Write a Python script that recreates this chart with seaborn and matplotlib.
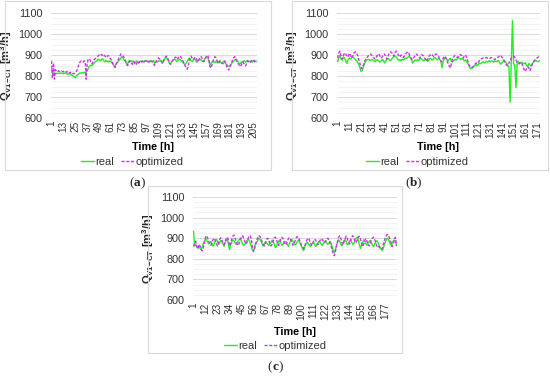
import numpy as np
import pandas as pd
import matplotlib
matplotlib.use("Agg")
import matplotlib.pyplot as plt
from matplotlib.patches import Rectangle
from matplotlib.lines import Line2D
import seaborn as sns

# ---------------- data ----------------
real_a = [
    832, 818, 812, 815, 810, 812, 814, 811, 813, 815,
    812, 814, 810, 813, 815, 812, 808, 811, 809, 812,
    806, 802, 798, 796, 792, 800, 805, 808, 812, 815,
    812, 816, 814, 818, 815, 820, 825, 835, 845, 848,
    852, 850, 856, 860, 866, 870, 874, 880, 878, 872,
    876, 882, 880, 872, 868, 875, 870, 866, 872, 868,
    870, 862, 858, 850, 845, 855, 862, 868, 872, 878,
    885, 892, 888, 880, 872, 868, 852, 860, 870, 874,
    868, 872, 866, 870, 862, 868, 872, 866, 864, 870,
    868, 872, 870, 866, 870, 874, 868, 872, 870, 866,
    872, 868, 870, 874, 860, 868, 872, 866, 870, 872,
    876, 870, 862, 868, 878, 885, 888, 880, 872, 862,
    858, 865, 870, 876, 880, 878, 872, 868, 875, 880,
    878, 872, 868, 862, 858, 855, 862, 870, 878, 885,
    880, 872, 868, 875, 882, 878, 870, 865, 872, 878,
    880, 876, 870, 868, 875, 882, 888, 892, 886, 870,
    852, 858, 865, 870, 868, 864, 870, 866, 862, 868,
    870, 865, 860, 866, 870, 864, 858, 854, 848, 845,
    850, 855, 860, 866, 870, 874, 880, 878, 870, 862,
    858, 862, 868, 866, 870, 872, 866, 870, 874, 870,
    868, 872, 870, 866, 872, 875, 870, 868,
]
opt_a = [
    872, 790, 862, 785, 830, 822, 820, 825, 822, 820,
    824, 822, 820, 825, 822, 818, 820, 822, 815, 818,
    812, 815, 810, 812, 818, 822, 830, 845, 860, 868,
    872, 870, 866, 872, 868, 785, 860, 878, 882, 875,
    862, 858, 868, 878, 882, 886, 890, 895, 900, 905,
    902, 898, 905, 900, 895, 888, 892, 898, 894, 885,
    880, 872, 860, 848, 840, 852, 865, 875, 885, 895,
    905, 900, 895, 890, 882, 870, 858, 850, 862, 872,
    866, 860, 855, 868, 862, 852, 858, 870, 862, 868,
    872, 866, 870, 875, 868, 872, 876, 870, 866, 872,
    876, 870, 868, 858, 850, 862, 872, 880, 886, 882,
    875, 868, 860, 872, 882, 890, 895, 888, 878, 866,
    855, 862, 872, 880, 885, 890, 886, 878, 888, 892,
    895, 888, 878, 868, 858, 848, 840, 832, 845, 870,
    888, 895, 885, 878, 882, 890, 884, 876, 868, 880,
    888, 892, 885, 872, 868, 880, 892, 898, 895, 878,
    845, 838, 852, 870, 885, 892, 886, 875, 868, 860,
    872, 868, 862, 858, 866, 872, 860, 845, 835, 828,
    838, 852, 866, 878, 888, 892, 884, 872, 862, 855,
    850, 845, 858, 868, 862, 855, 848, 860, 872, 868,
    862, 866, 872, 878, 872, 868, 874, 878,
]
real_b = [
    868, 885, 900, 882, 875, 890, 886, 870, 860, 878,
    885, 882, 888, 890, 886, 880, 872, 865, 855, 840,
    822, 825, 845, 860, 870, 878, 880, 876, 874, 878,
    876, 872, 868, 874, 878, 872, 866, 870, 880, 875,
    862, 870, 880, 884, 878, 872, 880, 888, 892, 895,
    890, 882, 875, 878, 872, 880, 876, 882, 886, 884,
    890, 895, 885, 878, 862, 870, 876, 872, 878, 874,
    880, 884, 878, 872, 876, 880, 874, 870, 878, 884,
    880, 876, 884, 888, 882, 878, 884, 880, 872, 838,
    870, 882, 888, 880, 870, 878, 884, 872, 866, 874,
    880, 876, 882, 888, 884, 878, 884, 880, 872, 876,
    868, 862, 848, 835, 836, 838, 845, 850, 855, 848,
    856, 862, 858, 864, 868, 862, 866, 870, 866, 872,
    868, 872, 870, 866, 872, 868, 870, 874, 866, 856,
    862, 870, 875, 868, 860, 850, 845, 675, 860, 1065,
    858, 850, 745, 862, 870, 858, 862, 866, 860, 858,
    864, 850, 846, 860, 852, 848, 860, 866, 870, 874,
    870, 868, 872,
]
opt_b = [
    885, 910, 918, 895, 880, 898, 910, 905, 890, 895,
    908, 900, 885, 895, 910, 915, 912, 900, 880, 860,
    840, 835, 852, 868, 880, 888, 895, 902, 905, 900,
    892, 886, 880, 890, 900, 905, 896, 885, 890, 900,
    905, 895, 880, 895, 908, 915, 912, 905, 895, 912,
    918, 910, 898, 890, 900, 895, 888, 895, 905, 912,
    915, 905, 890, 882, 878, 888, 898, 905, 900, 892,
    885, 895, 902, 896, 888, 880, 870, 882, 896, 900,
    905, 898, 892, 900, 905, 902, 895, 880, 870, 868,
    885, 895, 888, 878, 862, 850, 838, 860, 880, 892,
    898, 895, 888, 892, 900, 902, 895, 885, 895, 900,
    890, 870, 852, 845, 840, 842, 848, 856, 862, 858,
    866, 874, 880, 884, 886, 884, 886, 888, 884, 886,
    884, 888, 886, 882, 878, 885, 888, 890, 896, 898,
    890, 882, 870, 860, 852, 848, 860, 875, 885, 892,
    895, 888, 878, 865, 858, 860, 866, 862, 845, 830,
    822, 835, 845, 838, 826, 840, 856, 868, 876, 880,
    886, 890, 894,
]
real_c = [
    935, 862, 870, 858, 852, 865, 850, 845, 858, 872,
    885, 898, 890, 880, 872, 878, 885, 870, 862, 875,
    888, 895, 882, 870, 878, 890, 885, 872, 860, 878,
    890, 895, 870, 845, 865, 882, 892, 888, 878, 870,
    875, 888, 895, 900, 885, 872, 865, 870, 880, 888,
    895, 890, 878, 860, 842, 838, 860, 875, 882, 890,
    900, 895, 885, 870, 862, 875, 882, 878, 870, 865,
    872, 880, 890, 886, 870, 855, 860, 875, 885, 892,
    880, 866, 870, 878, 885, 880, 868, 860, 875, 888,
    895, 888, 875, 868, 872, 882, 890, 885, 872, 860,
    848, 840, 858, 872, 880, 876, 868, 860, 866, 875,
    880, 872, 860, 868, 878, 884, 880, 870, 865, 875,
    882, 888, 878, 870, 875, 885, 878, 860, 840, 830,
    845, 865, 880, 892, 885, 870, 862, 875, 888, 895,
    882, 868, 872, 885, 892, 880, 870, 875, 888, 898,
    905, 890, 870, 850, 865, 880, 892, 885, 872, 866,
    875, 885, 890, 878, 866, 860, 870, 882, 888, 880,
    866, 855, 848, 840, 852, 870, 885, 895, 900, 890,
    878, 868, 875, 885, 892, 888, 865,
]
opt_c = [
    860, 875, 885, 860, 848, 870, 862, 845, 838, 855,
    880, 905, 912, 900, 885, 870, 865, 880, 895, 900,
    890, 872, 862, 878, 895, 902, 890, 875, 868, 885,
    900, 905, 890, 862, 875, 895, 910, 915, 902, 885,
    870, 865, 878, 895, 905, 912, 900, 885, 872, 880,
    898, 910, 912, 895, 855, 835, 850, 872, 890, 905,
    912, 908, 895, 880, 868, 862, 878, 895, 900, 890,
    875, 862, 870, 888, 902, 905, 892, 875, 865, 880,
    895, 905, 898, 880, 868, 872, 885, 898, 902, 895,
    880, 866, 872, 885, 900, 908, 905, 892, 878, 865,
    858, 850, 862, 878, 892, 900, 895, 880, 865, 872,
    886, 895, 890, 878, 868, 875, 890, 898, 895, 885,
    878, 885, 895, 900, 892, 878, 862, 845, 825, 815,
    835, 860, 885, 905, 912, 900, 880, 868, 885, 900,
    910, 898, 880, 872, 890, 905, 912, 900, 885, 878,
    892, 905, 910, 895, 875, 860, 872, 890, 898, 885,
    870, 862, 875, 890, 900, 905, 895, 878, 862, 855,
    860, 850, 845, 852, 870, 890, 905, 915, 918, 910,
    895, 880, 860, 872, 890, 905, 862,
]
tick_step_a, tick_step_b, tick_step_c = 12, 10, 11
y_ticks = [600, 700, 800, 900, 1000, 1100]
series_names = ["real", "optimized"]
captions = ["a", "b", "c"]

# ---------------- style ----------------
sns.set_style("white")
plt.rcParams["font.family"] = ["Liberation Sans", "DejaVu Sans"]
plt.rcParams["mathtext.fontset"] = "custom"
plt.rcParams["mathtext.bf"] = "Liberation Sans:bold"
plt.rcParams["mathtext.rm"] = "Liberation Sans:bold"
plt.rcParams["mathtext.default"] = "bf"

GREEN = "#22EE22"
MAGENTA = "#CC33EE"
TXT = "#333333"
W, H = 550, 381
fig = plt.figure(figsize=(W / 100, H / 100), dpi=100)
fig.patch.set_facecolor("white")


def px_axes(x0, y0, x1, y1):
    return fig.add_axes([x0 / W, 1 - y1 / H, (x1 - x0) / W, (y1 - y0) / H])


def box(x0, y0, x1, y1):
    fig.patches.append(Rectangle((x0 / W, 1 - y1 / H), (x1 - x0) / W, (y1 - y0) / H,
                                 transform=fig.transFigure, fill=False,
                                 edgecolor="#D9D9D9", linewidth=0.8))


panels = [
    dict(real=real_a, opt=opt_a, step=tick_step_a, ax=(51, 13, 257, 118),
         box=(5, 0.5, 271, 170), time=(153, 147), leg=(132, 162), cap=(137, 183)),
    dict(real=real_b, opt=opt_b, step=tick_step_b, ax=(337, 13, 540, 118),
         box=(292, 0.5, 548, 170), time=(438, 147), leg=(417, 162), cap=(413, 183)),
    dict(real=real_c, opt=opt_c, step=tick_step_c, ax=(193, 197, 397, 300),
         box=(148, 186, 402, 353), time=(295, 332), leg=(275, 346), cap=(275, 367)),
]

serif = ["Liberation Serif", "DejaVu Serif"]
for p, cap in zip(panels, captions):
    box(*p["box"])
    ax = px_axes(*p["ax"])
    n = len(p["real"])
    hours = np.arange(1, n + 1)
    df = pd.DataFrame({"hour": np.concatenate([hours, hours]),
                       "Q": np.concatenate([p["real"], p["opt"]]),
                       "series": [series_names[0]] * n + [series_names[1]] * n})
    sns.lineplot(data=df[df.series == "real"], x="hour", y="Q", ax=ax,
                 color=GREEN, linewidth=1.0, legend=False)
    sns.lineplot(data=df[df.series == "optimized"], x="hour", y="Q", ax=ax,
                 color=MAGENTA, linewidth=1.0, linestyle=(0, (2.2, 1.2)), legend=False)
    ax.set_xlim(0.5, n + 0.5)
    ax.set_ylim(600, 1100)
    ax.set_yticks(y_ticks)
    ax.set_yticks(np.arange(600, 1101, 25), minor=True)
    ax.grid(True, which="major", axis="y", color="#D9D9D9", linewidth=0.7)
    ax.grid(True, which="minor", axis="y", color="#EEEEEE", linewidth=0.5)
    ax.set_axisbelow(True)
    xt = list(range(1, n + 1, p["step"]))
    ax.set_xticks(xt)
    ax.set_xticklabels([str(v) for v in xt], rotation=90, fontsize=7.2, color=TXT)
    ax.tick_params(axis="y", labelsize=7.8, labelcolor=TXT, length=0, pad=6)
    ax.tick_params(axis="x", length=0, pad=2)
    ax.tick_params(which="minor", length=0)
    for s in ax.spines.values():
        s.set_visible(False)
    ax.set_xlabel("")
    ax.set_ylabel("Q$_{V1\\!-\\!CT}$ [m$^3$/h]", fontsize=8, fontweight="bold", labelpad=3)
    fig.text(p["time"][0] / W, 1 - p["time"][1] / H, "Time [h]", ha="center", va="center",
             fontsize=7.8, fontweight="bold", color="black")
    handles = [Line2D([], [], color=GREEN, lw=1.0),
               Line2D([], [], color=MAGENTA, lw=1.0, linestyle=(0, (2.2, 1.2)))]
    fig.legend(handles, series_names, loc="center",
               bbox_to_anchor=(p["leg"][0] / W, 1 - p["leg"][1] / H), ncol=2,
               frameon=False, fontsize=8, handlelength=1.2, handletextpad=0.1,
               columnspacing=0.6, borderpad=0, borderaxespad=0, labelcolor=TXT)
    cx, cy = p["cap"][0] / W, 1 - p["cap"][1] / H
    fig.text(cx, cy, cap, ha="center", va="center", fontsize=9.5,
             fontweight="bold", family=serif)
    fig.text(cx - 3.2 / W, cy, "(", ha="right", va="center", fontsize=9.5, family=serif)
    fig.text(cx + 3.2 / W, cy, ")", ha="left", va="center", fontsize=9.5, family=serif)

fig.savefig("out.png", dpi=100, facecolor="white")
